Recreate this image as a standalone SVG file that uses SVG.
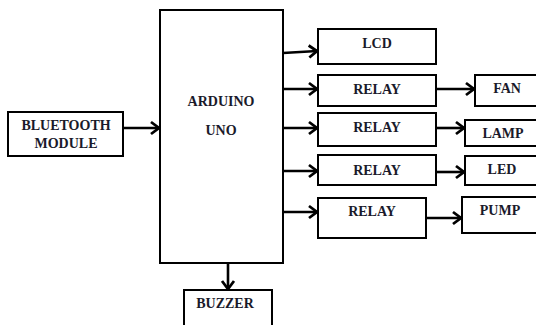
<svg xmlns="http://www.w3.org/2000/svg" width="536" height="325" viewBox="0 0 536 325">
<style>
.box{fill:#fff;stroke:#000;stroke-width:2}
.lbl{font-family:"Liberation Serif","Times New Roman",serif;font-weight:bold;font-size:14px;fill:#1a1a2a;text-anchor:middle}
.conn{stroke:#000;stroke-width:2.6;fill:none;marker-end:url(#arr)}
</style>
<defs>
<marker id="arr" markerUnits="userSpaceOnUse" markerWidth="14" markerHeight="16" viewBox="-12 -8 14 16" refX="0" refY="0" orient="auto">
<path d="M-8,-6 L0,0 L-8,6" fill="none" stroke="#000" stroke-width="2.8" stroke-linejoin="miter"/>
</marker>
</defs>
<rect width="536" height="325" fill="#fff"/>
<g id="connectors">
<line class="conn" x1="123" y1="128" x2="159" y2="128"/>
<line class="conn" x1="283" y1="53" x2="317" y2="51"/>
<line class="conn" x1="283" y1="89" x2="317" y2="89"/>
<line class="conn" x1="283" y1="128" x2="317" y2="128"/>
<line class="conn" x1="283" y1="171" x2="317" y2="171"/>
<line class="conn" x1="283" y1="212" x2="317" y2="212"/>
<line class="conn" x1="436" y1="89" x2="474" y2="89"/>
<line class="conn" x1="436" y1="128" x2="464" y2="128"/>
<line class="conn" x1="436" y1="172" x2="464" y2="172"/>
<line class="conn" x1="426" y1="218" x2="461" y2="218"/>
<line class="conn" x1="228" y1="263" x2="228" y2="289"/>
</g>
<g id="bluetooth"><rect class="box" x="8" y="112" width="115" height="44"/><text class="lbl" x="66" y="130">BLUETOOTH</text><text class="lbl" x="66" y="148">MODULE</text></g>
<g id="arduino"><rect class="box" x="160" y="10" width="123" height="253"/><text class="lbl" x="221" y="106">ARDUINO</text><text class="lbl" x="221" y="135">UNO</text></g>
<g id="lcd"><rect class="box" x="318" y="29" width="118" height="35"/><text class="lbl" x="377" y="48">LCD</text></g>
<g id="relay1"><rect class="box" x="318" y="75" width="118" height="31"/><text class="lbl" x="377" y="94">RELAY</text></g>
<g id="relay2"><rect class="box" x="318" y="113" width="118" height="33"/><text class="lbl" x="377" y="132">RELAY</text></g>
<g id="relay3"><rect class="box" x="318" y="155" width="118" height="30"/><text class="lbl" x="377" y="175">RELAY</text></g>
<g id="relay4"><rect class="box" x="318" y="198" width="108" height="40"/><text class="lbl" x="372" y="216">RELAY</text></g>
<g id="fan"><rect class="box" x="475" y="75" width="70" height="31"/><text class="lbl" x="507" y="93">FAN</text></g>
<g id="lamp"><rect class="box" x="465" y="120" width="80" height="26"/><text class="lbl" x="503" y="138">LAMP</text></g>
<g id="led"><rect class="box" x="465" y="156" width="80" height="29"/><text class="lbl" x="502" y="174">LED</text></g>
<g id="pump"><rect class="box" x="462" y="197" width="83" height="36"/><text class="lbl" x="500" y="215">PUMP</text></g>
<g id="buzzer"><rect class="box" x="184" y="290" width="88" height="45"/><text class="lbl" x="225" y="308">BUZZER</text></g>
</svg>
